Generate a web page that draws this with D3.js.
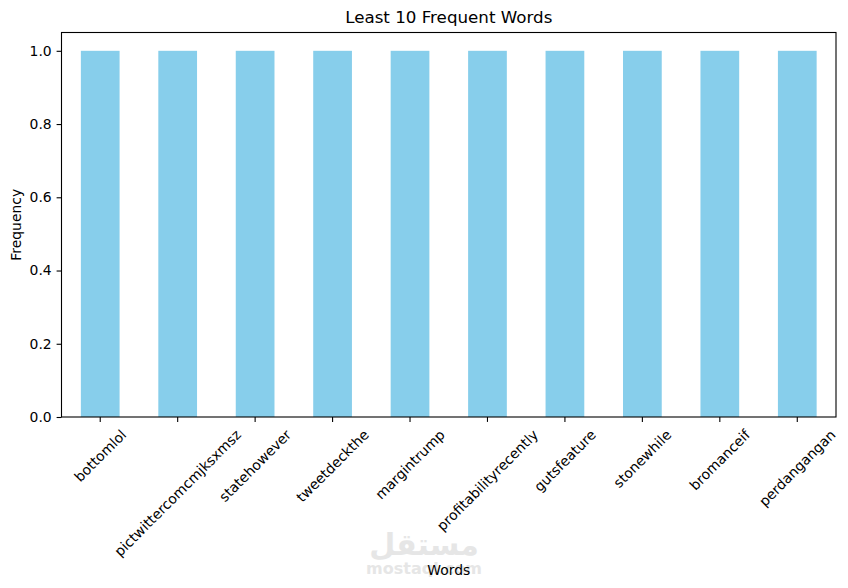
<!DOCTYPE html>
<html lang="en">
<head>
  <meta charset="UTF-8">
  <title>Least 10 Frequent Words</title>
  <script src="https://d3js.org/d3.v7.min.js"></script>
  <style>
    body { margin: 0; background: #fff; }
    svg { font-family: "DejaVu Sans", sans-serif; display: block; }
  </style>
</head>
<body>
  <svg width="848" height="588"></svg>

  <script>
    const words = ['bottomlol', 'pictwittercomcmjksxmsz', 'statehowever', 'tweetdeckthe',
      'margintrump', 'profitabilityrecently', 'gutsfeature', 'stonewhile', 'bromanceif', 'perdangangan'];
    const frequencies = [1, 1, 1, 1, 1, 1, 1, 1, 1, 1];
    const yTicks = [0, 0.2, 0.4, 0.6, 0.8, 1.0];

    const font = '"DejaVu Sans", sans-serif';
    const svg = d3.select('svg');
    const margin = { top: 32.5, right: 12, bottom: 171, left: 61.5 };
    const width = 848 - margin.left - margin.right;
    const height = 588 - margin.top - margin.bottom;

    const chart = svg.append('g')
      .attr('transform', `translate(${margin.left},${margin.top})`);

    // matplotlib-like band: bar width 0.5 of each slot
    const x = d3.scaleBand().domain(words).range([0, width]).paddingInner(0.5).paddingOuter(0.25);
    const y = d3.scaleLinear().domain([0, 1.05]).range([height, 0]);

    chart.selectAll('.bar')
      .data(words.map((w, i) => ({ w, v: frequencies[i] })))
      .enter().append('rect')
      .attr('class', 'bar')
      .attr('x', d => x(d.w))
      .attr('y', d => y(d.v))
      .attr('width', x.bandwidth())
      .attr('height', d => height - y(d.v))
      .attr('fill', '#87ceeb');

    // y axis
    const yAxis = chart.append('g')
      .call(d3.axisLeft(y).tickValues(yTicks).tickFormat(d3.format('.1f'))
        .tickSize(4.9).tickPadding(4.9))
      .attr('font-family', font)
      .attr('font-size', 13.9);
    yAxis.select('.domain').remove();
    yAxis.selectAll('.tick line').attr('stroke', '#000').attr('stroke-width', 1.1);
    yAxis.selectAll('.tick text').attr('fill', '#000');

    // x axis
    const xAxis = chart.append('g')
      .attr('transform', `translate(0,${height})`)
      .call(d3.axisBottom(x).tickSize(4.9).tickFormat(''))
      .attr('font-family', font)
      .attr('font-size', 13.9);
    xAxis.select('.domain').remove();
    xAxis.selectAll('.tick line').attr('stroke', '#000').attr('stroke-width', 1.1);

    // rotated labels, bbox centred under the tick
    const fs = 13.9;
    xAxis.selectAll('.tick').each(function (d) {
      const t = d3.select(this).append('text')
        .attr('text-anchor', 'middle')
        .attr('dy', '0.35em')
        .attr('fill', '#000')
        .text(d);
      const w = t.node().getComputedTextLength();
      const side = (w + fs * 1.1) * Math.SQRT1_2;
      const cy = 9.8 + side / 2;
      t.attr('transform', `translate(0,${cy}) rotate(-45)`);
    });

    // frame
    chart.append('rect')
      .attr('width', width).attr('height', height)
      .attr('fill', 'none').attr('stroke', '#000').attr('stroke-width', 1.1);

    // title and axis labels
    svg.append('text')
      .attr('x', margin.left + width / 2).attr('y', 23)
      .attr('text-anchor', 'middle')
      .style('font-size', '16.7px')
      .text('Least 10 Frequent Words');

    svg.append('text')
      .attr('transform', `translate(21,${margin.top + height / 2}) rotate(-90)`)
      .attr('text-anchor', 'middle')
      .style('font-size', '13.9px')
      .text('Frequency');

    // watermark
    svg.append('text')
      .attr('x', 424).attr('y', 555)
      .attr('text-anchor', 'middle')
      .attr('fill', '#e6e6e6')
      .style('font-size', '30px').style('font-weight', 'bold')
      .text('مستقل');
    svg.append('text')
      .attr('x', 424).attr('y', 574)
      .attr('text-anchor', 'middle')
      .attr('fill', '#e6e6e6')
      .style('font-size', '16px').style('font-weight', 'bold')
      .text('mostaql.com');

    svg.append('text')
      .attr('x', margin.left + width / 2).attr('y', 575)
      .attr('text-anchor', 'middle')
      .style('font-size', '13.9px')
      .text('Words');
  </script>
</body>
</html>
